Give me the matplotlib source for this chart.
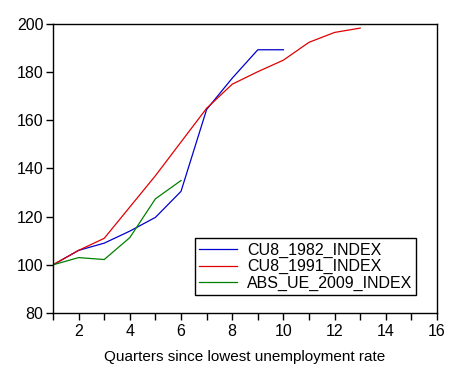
import matplotlib
matplotlib.use('Agg')
import matplotlib.pyplot as plt
from matplotlib.ticker import MultipleLocator

plt.rcParams['font.family'] = ['Liberation Sans', 'DejaVu Sans']

# Index values (lowest unemployment quarter = 100)
quarters_1982 = [1, 2, 3, 4, 5, 6, 7, 8, 9, 10]
cu8_1982 = [100, 106, 109, 114, 119.7, 130.5, 164.5, 177.5, 189.3, 189.3]

quarters_1991 = [1, 2, 3, 4, 5, 6, 7, 8, 9, 10, 11, 12, 13]
cu8_1991 = [100, 106, 111, 124, 137, 151, 165, 175, 180.2, 185, 192.4, 196.5, 198.3]

quarters_2009 = [1, 2, 3, 4, 5, 6]
abs_ue_2009 = [100, 103, 102.2, 111.3, 127.4, 135]

fig = plt.figure(figsize=(4.67, 3.81), dpi=100)
ax = fig.add_axes([0.1135, 0.1785, 0.8223, 0.7585])

ax.plot(quarters_1982, cu8_1982, color='#0000d0', lw=0.9, label='CU8_1982_INDEX')
ax.plot(quarters_1991, cu8_1991, color='#e00000', lw=0.9, label='CU8_1991_INDEX')
ax.plot(quarters_2009, abs_ue_2009, color='#008000', lw=0.9, label='ABS_UE_2009_INDEX')

ax.set_xlim(1, 16)
ax.set_ylim(80, 200)
ax.xaxis.set_major_locator(MultipleLocator(2))
ax.xaxis.set_minor_locator(MultipleLocator(1))
ax.yaxis.set_major_locator(MultipleLocator(20))
ax.tick_params(axis='both', which='both', direction='out', length=5, width=1,
               labelsize=11.5, colors='black', pad=2)
ax.tick_params(axis='x', which='major', pad=3)
for s in ax.spines.values():
    s.set_linewidth(1)

ax.set_xlabel('Quarters since lowest unemployment rate', fontsize=11, labelpad=8)

leg = ax.legend(loc='lower left', bbox_to_anchor=(0.37, 0.062), fontsize=11.5,
                frameon=True, fancybox=False, edgecolor='black', framealpha=1,
                handlelength=2.4, handletextpad=0.6, borderpad=0.25, labelspacing=0.1,
                borderaxespad=0)
leg.get_frame().set_linewidth(1)

fig.savefig('out.png', dpi=100)
